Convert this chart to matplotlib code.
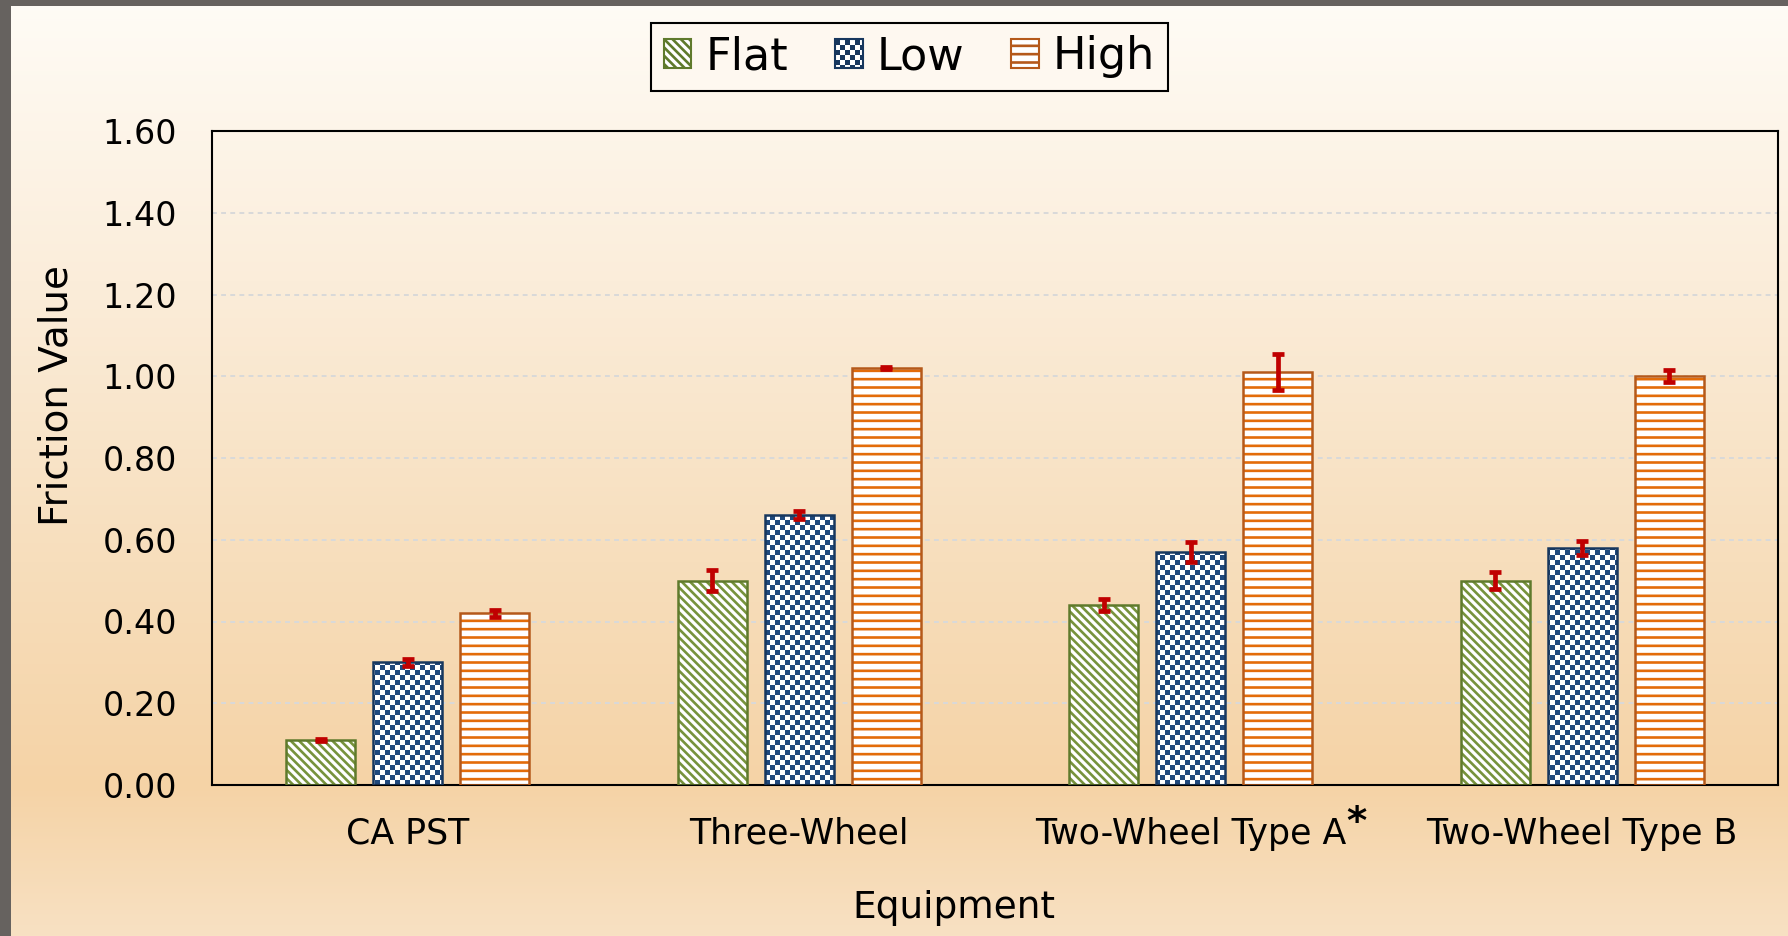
import numpy as np
import matplotlib
matplotlib.use("Agg")
import matplotlib.pyplot as plt
import matplotlib.hatch as mhatch
from matplotlib.path import Path
from matplotlib.patches import Rectangle

# data
categories = ["CA PST", "Three-Wheel", "Two-Wheel Type A*", "Two-Wheel Type B"]
series = ["Flat", "Low", "High"]
flat_vals = [0.11, 0.50, 0.44, 0.50]
low_vals = [0.30, 0.66, 0.57, 0.58]
high_vals = [0.42, 1.02, 1.01, 1.00]
flat_err = [0.003, 0.025, 0.014, 0.02]
low_err = [0.008, 0.01, 0.024, 0.017]
high_err = [0.008, 0.003, 0.044, 0.015]
yticks = [0.0, 0.2, 0.4, 0.6, 0.8, 1.0, 1.2, 1.4, 1.6]

plt.rcParams['font.family'] = ['DejaVu Sans']
plt.rcParams['hatch.linewidth'] = 1.9


class CheckerHatch(mhatch.HatchPatternBase):
    """Checkerboard hatch, used in place of the 'O' pattern."""
    filled = True

    def __init__(self, hatch, density):
        self.n = 20 if 'O' in hatch else 0
        self.num_vertices = (self.n * self.n // 2) * 5

    def set_vertices_and_codes(self, vertices, codes):
        s = 1.0 / self.n
        inset = plt.rcParams['hatch.linewidth'] / 72.0 / 2.0
        k = 0
        for i in range(self.n):
            for j in range(self.n):
                if (i + j) % 2:
                    continue
                x0, x1 = j * s + inset, (j + 1) * s - inset
                y0, y1 = i * s + inset, (i + 1) * s - inset
                vertices[k:k + 5] = [(x0, y0), (x1, y0), (x1, y1), (x0, y1), (x0, y0)]
                codes[k:k + 5] = [Path.MOVETO, Path.LINETO, Path.LINETO,
                                  Path.LINETO, Path.CLOSEPOLY]
                k += 5


mhatch._hatch_types[mhatch._hatch_types.index(mhatch.LargeCircles)] = CheckerHatch

fig = plt.figure(figsize=(17.88, 9.36), dpi=100)

# background gradient and grey frame
bg = fig.add_axes([0, 0, 1, 1], zorder=-10)
stops = [0.0, 0.3, 0.6, 0.84, 1.0]
cols = np.array([(255, 252, 246), (251, 237, 218), (247, 222, 188),
                 (245, 211, 166), (248, 225, 195)]) / 255.0
yy = np.linspace(0, 1, 936)
grad = np.stack([np.interp(yy, stops, cols[:, c]) for c in range(3)], axis=-1)
bg.imshow(grad[:, None, :], aspect='auto', extent=(0, 1, 0, 1))
bg.add_patch(Rectangle((0, 0), 11 / 1788, 1, color='#66625f', lw=0))
bg.add_patch(Rectangle((0, 1 - 6 / 936), 1, 6 / 936, color='#66625f', lw=0))
bg.set_xlim(0, 1)
bg.set_ylim(0, 1)
bg.axis('off')

ax = fig.add_axes([212 / 1788, 1 - 785 / 936, 1566 / 1788, 654 / 936])
ax.set_facecolor('none')

x = np.arange(len(categories))
width = 0.176
step = 0.222
styles = [
    dict(hatch='\\\\\\\\', hc='#77933C', ec='#5F7A2C'),
    dict(hatch='O', hc='#1F497D', ec='#17375E'),
    dict(hatch='--', hc='#E36C09', ec='#B5591A'),
]
values = [flat_vals, low_vals, high_vals]
errors = [flat_err, low_err, high_err]

handles = []
for k, (vals, errs, st) in enumerate(zip(values, errors, styles)):
    pos = x + (k - 1) * step
    ax.bar(pos, vals, width, color='white', edgecolor=st['hc'],
           hatch=st['hatch'], linewidth=0, zorder=2)
    ax.bar(pos, vals, width, fill=False, edgecolor=st['ec'],
           linewidth=1.8, zorder=3)
    ax.errorbar(pos, vals, yerr=errs, fmt='none', ecolor='#C00000',
                elinewidth=3.4, capsize=4.3, capthick=3.4, zorder=4)
    h = Rectangle((0, 0), 1, 1, facecolor='white', edgecolor=st['ec'],
                  hatch=st['hatch'], linewidth=1.5)
    h.set_hatch_color(st['hc']) if hasattr(h, 'set_hatch_color') else None
    handles.append(h)

ax.set_xlim(-0.5, len(categories) - 0.5)
ax.set_ylim(0, 1.6)
ax.set_yticks(yticks)
ax.set_yticklabels(["%.2f" % v for v in yticks])
ax.set_xticks(x)
ax.set_xticklabels([c.rstrip('*') for c in categories])
ax.tick_params(axis='y', length=0, pad=25, labelsize=24)
ax.tick_params(axis='x', length=0, pad=23, labelsize=25)
ax.set_axisbelow(True)
ax.yaxis.grid(True, color='#D9D9D9', linestyle=(0, (2.5, 2.2)), linewidth=1.4)
for sp in ax.spines.values():
    sp.set_linewidth(1.5)
    sp.set_color('black')

# bold asterisk after the starred category label
for lab, c in zip(ax.get_xticklabels(), categories):
    if c.endswith('*'):
        ax.annotate('*', xy=(1, 1), xycoords=lab, xytext=(0, 9),
                    textcoords='offset points', ha='left', va='top',
                    fontsize=28, fontweight='bold')

fig.text(57 / 1788, 1 - 396 / 936, "Friction Value", rotation=90,
         ha='center', va='center', fontsize=28)
fig.text(954 / 1788, 1 - 918 / 936, "Equipment", ha='center',
         va='baseline', fontsize=27)

leg = ax.legend(handles, series, loc='upper center',
                bbox_to_anchor=(909.5 / 1788, 1 - 23 / 936),
                bbox_transform=fig.transFigure, ncol=3, fontsize=32,
                frameon=True, fancybox=False, edgecolor='black',
                facecolor='#FEF8F0', framealpha=1, handlelength=0.62,
                handleheight=0.62, handletextpad=0.32, columnspacing=1.05,
                borderpad=0.28, borderaxespad=0)
leg.get_frame().set_linewidth(1.5)

fig.savefig('out.png', dpi=100)
